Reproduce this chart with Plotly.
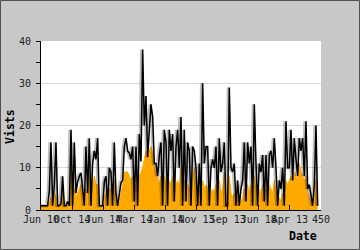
import plotly.graph_objects as go

# x index (one sample per period)
idx = list(range(167))

visits = [1, 1, 1, 1, 1, 4.5, 16, 1, 6, 16, 1, 1, 1.5, 8, 1, 1, 2, 1, 19, 1,
          16, 4, 6.7, 8, 8.8, 5, 1, 15, 4, 17, 1, 11, 14, 12, 17, 1, 1, 1, 6.7, 8,
          1, 10, 9, 1, 16, 4, 1, 4, 6.5, 7, 15, 17, 14, 13.5, 12, 15, 2, 15, 1, 18,
          11.5, 38, 20, 27, 12.5, 19, 25, 22, 11, 11, 8, 13, 16, 1, 19, 16, 1, 19, 14, 18,
          2, 15, 19, 10, 22, 1, 19, 2, 16, 14, 1, 15, 14, 10, 1, 11, 1, 30, 11, 15,
          15, 1, 10, 12, 10, 15, 1, 17, 9, 11, 16, 1, 1, 29, 10, 9, 11, 1, 7, 1,
          5, 7, 16, 2, 16, 11, 15, 1, 25, 11, 1, 11, 9, 13, 2, 13, 1, 13, 14, 10,
          17, 10, 1, 7, 5, 10, 1, 21, 10, 10, 19, 7, 17, 12, 8, 17, 14, 17, 8, 21,
          5, 6, 3, 1, 6, 20, 1]

uniques = [1, 1, 1, 1, 1, 2, 3, 1, 4, 3, 1, 1, 1, 5, 1, 1, 1, 1, 10, 3,
           5, 3, 4, 5, 6, 3, 1, 5, 3, 8, 1, 6, 8, 6, 6, 1, 1, 1, 3, 4,
           1, 5, 5, 1, 7, 2, 1, 2, 4, 6, 9, 9, 9, 8, 7, 8, 1, 6, 1, 8,
           9, 10, 12, 14, 12, 14, 15, 13, 10, 9, 8, 6, 8, 1, 8, 6, 1, 7, 6, 8,
           1, 6, 7, 5, 10, 1, 7, 1, 6, 5, 1, 8, 10, 5, 1, 5, 1, 7, 5, 6,
           5, 1, 4, 5, 4, 6, 1, 7, 4, 5, 9, 1, 1, 8, 4, 3, 4, 1, 3, 1,
           2, 3, 5, 1, 6, 4, 6, 1, 8, 4, 1, 5, 4, 6, 1, 5, 1, 6, 5, 4,
           7, 4, 1, 3, 2, 4, 1, 7, 6, 7, 8, 6, 9, 8, 7, 11, 9, 8, 7, 8,
           4, 3, 2, 1, 3, 7, 1]

tick_labels = ["Jun 10", "Oct 14", "Jun 14", "Mar 14", "Jan 14",
               "Nov 13", "Sep 13", "Jun 18", "Apr 13", "450"]
y_ticks = [0, 10, 20, 30, 40]

x_max = 168
tick_pos = [i * x_max / (len(tick_labels) - 1) for i in range(len(tick_labels))]

mono = "DejaVu Sans Mono"

fig = go.Figure()
fig.add_trace(go.Scatter(x=idx, y=uniques, mode="lines", fill="tozeroy",
                         fillcolor="#ffa800", line=dict(color="#ffa800", width=1),
                         hoverinfo="skip"))
fig.add_trace(go.Scatter(x=[i - 0.7 for i in idx], y=visits, mode="lines",
                         line=dict(color="rgba(0,0,0,0.25)", width=3),
                         hoverinfo="skip"))
fig.add_trace(go.Scatter(x=idx, y=visits, mode="lines",
                         line=dict(color="black", width=1.5),
                         hoverinfo="skip"))

fig.update_layout(
    width=360, height=250,
    margin=dict(l=41, r=39, t=41, b=40),
    paper_bgcolor="#c8c8c8", plot_bgcolor="white",
    showlegend=False,
    font=dict(family=mono, size=10, color="#222"),
    xaxis=dict(range=[0, x_max], tickvals=tick_pos, ticktext=tick_labels,
               ticks="inside", ticklen=5, tickcolor="black", tickwidth=1,
               showline=True, linecolor="black", linewidth=1,
               showgrid=False, zeroline=False, tickangle=0,
               tickfont=dict(family=mono, size=10, color="#222")),
    yaxis=dict(range=[0, 40], tickvals=y_ticks,
               ticks="outside", ticklen=4, tickcolor="black",
               minor=dict(dtick=5, ticks="outside", ticklen=4, tickcolor="black", showgrid=False),
               showline=True, linecolor="black", linewidth=1,
               showgrid=True, gridcolor="#d9d9d9", zeroline=False,
               ticklabelstandoff=3,
               tickfont=dict(family=mono, size=10, color="#222")),
    annotations=[
        dict(text="<b>Vists</b>", textangle=-90, xref="paper", yref="paper",
             x=-0.111, y=0.497, xanchor="center", yanchor="middle", showarrow=False,
             font=dict(family=mono, size=11.5, color="black")),
        dict(text="<b>Date</b>", xref="paper", yref="paper",
             x=0.993, y=-0.154, xanchor="right", yanchor="middle", showarrow=False,
             font=dict(family=mono, size=11.5, color="black")),
    ],
    shapes=[dict(type="rect", xref="paper", yref="paper",
                 x0=-40.5 / 280, x1=1 + 38.5 / 280, y0=-39.5 / 169, y1=1 + 40.5 / 169,
                 line=dict(color="#505050", width=1), layer="below")],
)

fig.write_html("out.html")
